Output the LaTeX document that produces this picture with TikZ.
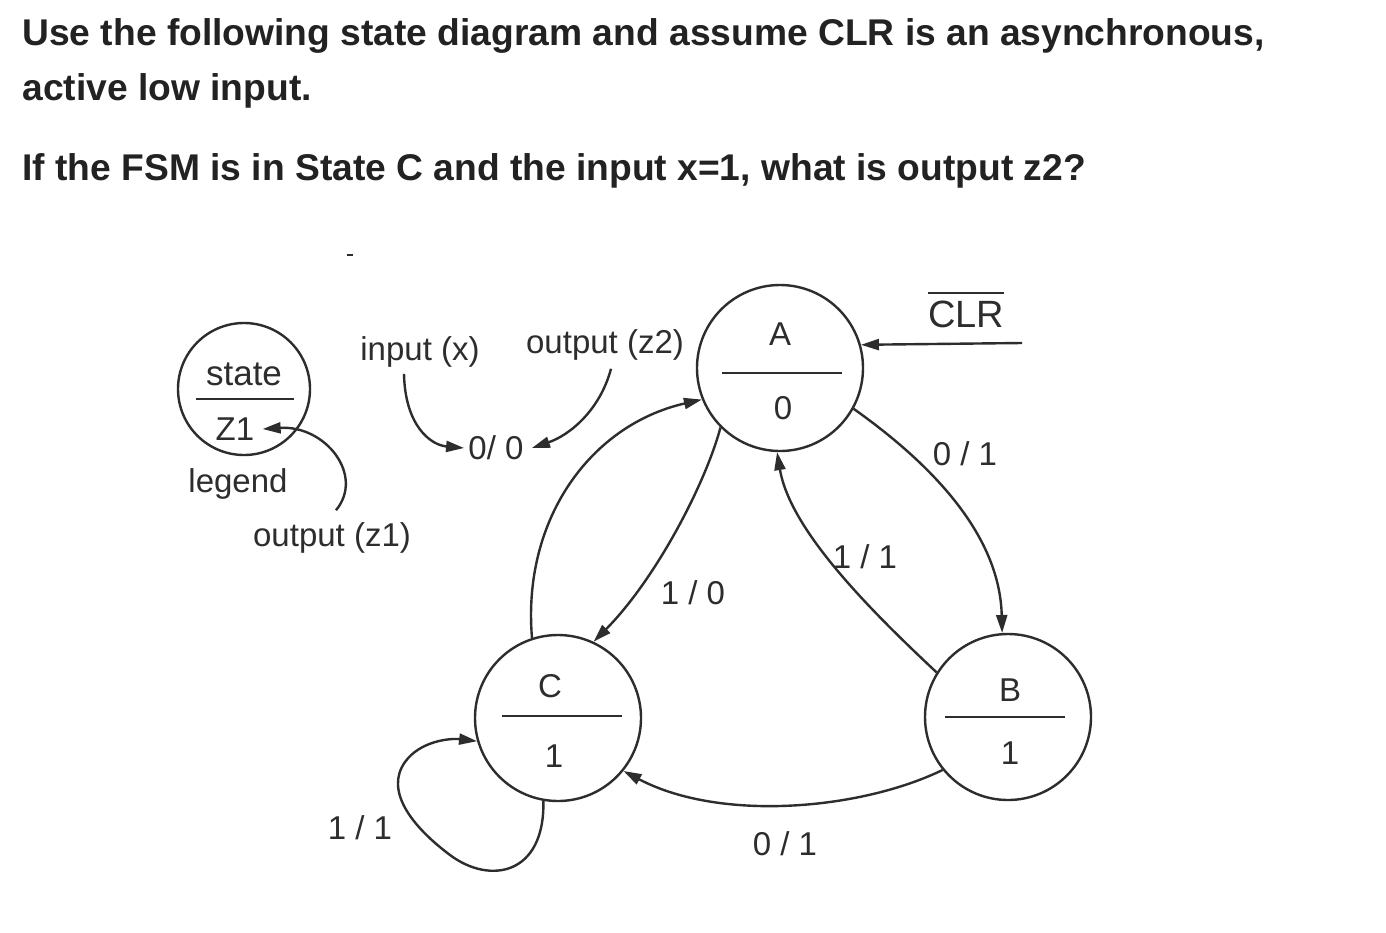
\documentclass[tikz,border=0pt]{standalone}
\usepackage{fontspec}
\setmainfont{Liberation Sans}
\usetikzlibrary{arrows.meta}
\definecolor{ink}{RGB}{45,45,45}
\definecolor{titleink}{RGB}{34,34,34}
\begin{document}
\begin{tikzpicture}[x=0.5pt,y=-0.5pt,
  statebox/.style={circle,draw=ink,line width=1.2pt,minimum size=83pt,inner sep=0pt},
  lbl/.style={text=ink,font=\fontsize{16.5}{19}\selectfont,inner sep=0pt},
  titletext/.style={text=titleink,font=\bfseries\fontsize{18.6}{22}\selectfont,inner sep=0pt,anchor=base west},
  edge/.style={draw=ink,line width=1.2pt,-{Triangle[length=9pt,width=5.5pt]}},
  sepline/.style={draw=ink,line width=1.2pt}]
\fill[white] (0,0) rectangle (1386,932);
\useasboundingbox (0,0) rectangle (1386,932);

% question text
\node[titletext] (t1) at (22,45) {Use the following state diagram and assume CLR is an asynchronous,};
\node[titletext] (t2) at (22,100) {active low input.};
\node[titletext] (t3) at (22,180) {If the FSM is in State C and the input x=1, what is output z2?};

% stray mark
\draw[ink,line width=1pt] (347,255) -- (353,255);

% legend
\node[statebox,minimum size=66pt] (L) at (244,389) {};
\node[lbl,font=\fontsize{17.5}{20}\selectfont] (Lstate) at (244,374) {state};
\draw[sepline] ([shift={(-48,10)}]L.center) -- ([shift={(50,10)}]L.center);
\node[lbl] (Z1) at (235,429) {Z1};
\node[lbl] (legend) at (238,484) {legend};
\node[lbl] (oz1) at (332,538) {output (z1)};
\node[lbl] (inx) at (420,352) {input (x)};
\node[lbl] (oz2) at (605,345) {output (z2)};
\node[lbl] (l00) at (496,448) {0/ 0};

\draw[edge] ([shift={(4,-12)}]oz1.north) .. controls (365,475) and (325,425) .. ([xshift=4pt]Z1.east);
\draw[edge] ([xshift=-8pt,yshift=-3pt]inx.south) .. controls (405,425) and (430,445) .. ([xshift=-2pt]l00.west);
\draw[edge] ([xshift=3pt,yshift=-4pt]oz2.south) .. controls (600,410) and (570,435) .. ([xshift=4pt]l00.east);

% states
\node[statebox] (A) at (780,368) {};
\node[lbl] (Aname) at (780,334) {A};
\node[lbl] (Aout) at (783,408) {0};
\draw[sepline] ([shift={(-58,5)}]A.center) -- ([shift={(62,5)}]A.center);

\node[statebox] (B) at (1008,717) {};
\node[lbl] (Bname) at (1010,690) {B};
\node[lbl] (Bout) at (1010,753) {1};
\draw[sepline] ([shift={(-63,0)}]B.center) -- ([shift={(57,0)}]B.center);

\node[statebox] (C) at (558,718) {};
\node[lbl] (Cname) at (550,686) {C};
\node[lbl] (Cout) at (554,756) {1};
\draw[sepline] ([shift={(-56,-2)}]C.center) -- ([shift={(64,-2)}]C.center);

% CLR input
\node[lbl,font=\fontsize{19}{22}\selectfont] (clr) at (966,314) {CLR};
\draw[sepline] ([yshift=3.5pt]clr.north west) -- ([yshift=3.5pt]clr.north east);
\coordinate (clrin) at (1022,343);
\draw[edge] (clrin) -- (A.16);

% transitions
\draw[edge] (C.108) .. controls (522,520) and (590,425) .. (A.202);
\draw[edge] (A.225) .. controls (705,485) and (655,580) .. (C.65);
\node[lbl] (l10) at (693,593) {1 / 0};
\draw[edge] (B.148) .. controls (870,610) and (790,530) .. (A.268);
\node[lbl] (l11a) at (865,557) {1 / 1};
\draw[edge] (A.331) .. controls (940,470) and (1000,540) .. (B.94);
\node[lbl] (l01a) at (965,454) {0 / 1};
\draw[edge] (B.219) .. controls (860,810) and (720,822) .. (C.321);
\node[lbl] (l01b) at (785,844) {0 / 1};
\draw[edge] (C.260) .. controls (545,875) and (490,885) .. (450,855)
  .. controls (410,825) and (385,790) .. (405,762)
  .. controls (420,741) and (450,738) .. (C.196);
\node[lbl] (l11b) at (360,828) {1 / 1};
\end{tikzpicture}
\end{document}
